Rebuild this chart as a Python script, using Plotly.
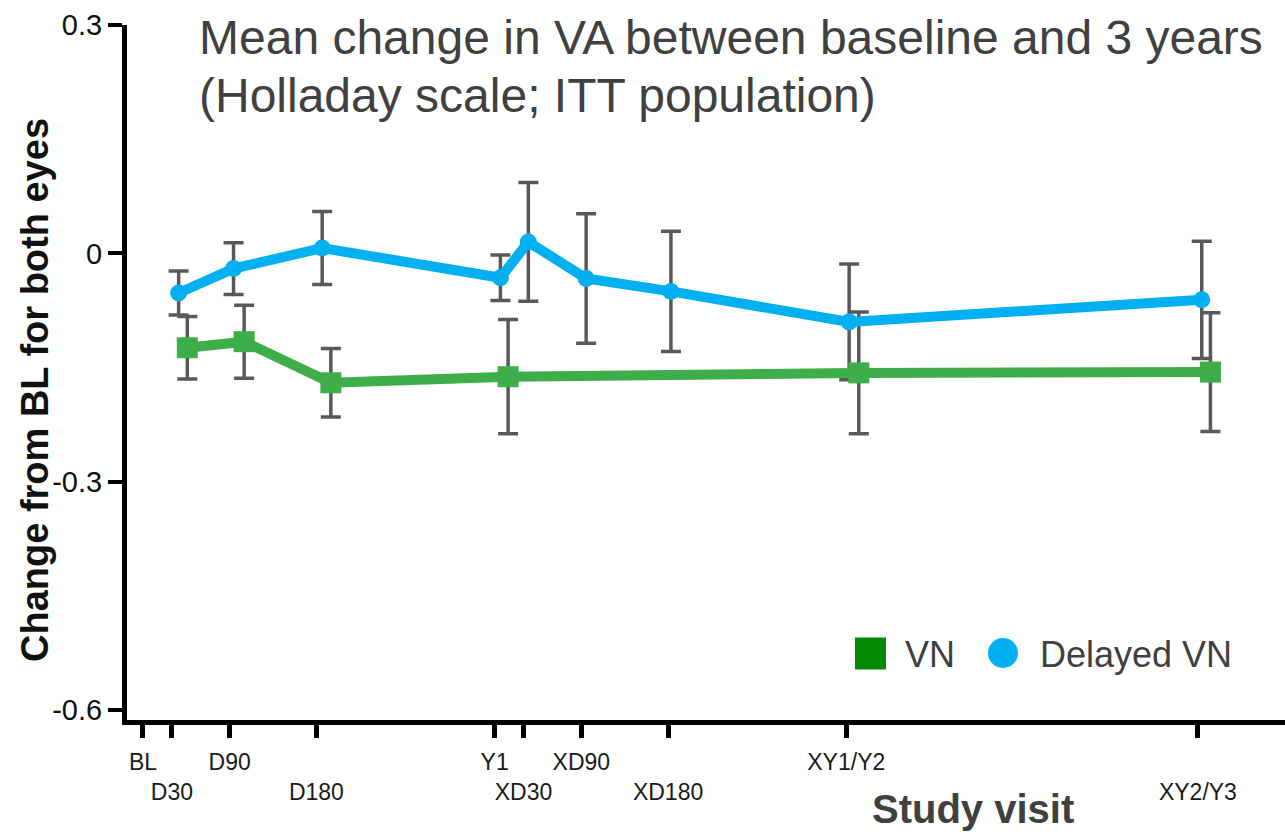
import plotly.graph_objects as go

# Study visit schedule (days from baseline) and their axis labels
visit_days = [0, 30, 90, 180, 365, 395, 455, 545, 730, 1095]
visit_labels = ["BL", "<br>D30", "D90", "<br>D180", "Y1", "<br>XD30",
                "XD90", "<br>XD180", "XY1/Y2", "<br>XY2/Y3"]

# VN group: mean change from baseline and error half-widths
vn_days = [46, 105, 195, 379, 743, 1108]
vn_mean = [-0.124, -0.116, -0.170, -0.162, -0.157, -0.156]
vn_err = [0.041, 0.048, 0.045, 0.075, 0.080, 0.078]

# Delayed VN group
dvn_days = [37, 94, 186, 371, 400, 460, 548, 733, 1099]
dvn_mean = [-0.052, -0.020, 0.007, -0.032, 0.015, -0.033, -0.050, -0.090, -0.061]
dvn_err = [0.029, 0.034, 0.048, 0.030, 0.078, 0.085, 0.079, 0.076, 0.077]

FONT = "Liberation Sans, Arial, sans-serif"
BLUE = "#00B0F0"
GREEN = "#3DAE49"
GREEN_KEY = "#038A03"
ERR = "#595959"
TEXT = "#404040"

fig = go.Figure()

# error bars first so the lines sit on top of them
for days, mean, err in [(vn_days, vn_mean, vn_err), (dvn_days, dvn_mean, dvn_err)]:
    fig.add_trace(go.Scatter(
        x=days, y=mean, mode="markers",
        marker=dict(size=1, color="rgba(0,0,0,0)"),
        error_y=dict(type="data", array=err, visible=True,
                     color=ERR, thickness=3.5, width=10),
        showlegend=False, hoverinfo="skip",
    ))

fig.add_trace(go.Scatter(
    x=vn_days, y=vn_mean, mode="lines+markers", name="VN",
    line=dict(color=GREEN, width=10),
    marker=dict(symbol="square", size=21, color=GREEN),
    showlegend=False,
))
fig.add_trace(go.Scatter(
    x=dvn_days, y=dvn_mean, mode="lines+markers", name="Delayed VN",
    line=dict(color=BLUE, width=10),
    marker=dict(symbol="circle", size=17, color=BLUE),
    showlegend=False,
))

PL, PR, PT, PB = 127, 0, 25, 112
W, H = 1285, 832
pw, ph = W - PL - PR, H - PT - PB


def px(x):
    return (x - PL) / pw


def py(y):
    return (H - PB - y) / ph


annotations = [
    dict(text="Mean change in VA between baseline and 3 years",
         x=px(197), y=py(38), xanchor="left", yanchor="middle",
         font=dict(family=FONT, size=48, color=TEXT)),
    dict(text="(Holladay scale; ITT population)",
         x=px(197), y=py(95), xanchor="left", yanchor="middle",
         font=dict(family=FONT, size=48, color=TEXT)),
    dict(text="<b>Change from BL for both eyes</b>", textangle=-90,
         x=px(35), y=py(390), xanchor="center", yanchor="middle",
         font=dict(family=FONT, size=38, color="#111111")),
    dict(text="<b>Study visit</b>",
         x=px(973), y=py(809), xanchor="center", yanchor="middle",
         font=dict(family=FONT, size=40, color=TEXT)),
    dict(text="VN", x=px(903), y=py(654), xanchor="left", yanchor="middle",
         font=dict(family=FONT, size=36, color=TEXT)),
    dict(text="Delayed VN", x=px(1038), y=py(654), xanchor="left", yanchor="middle",
         font=dict(family=FONT, size=36, color=TEXT)),
]
for a in annotations:
    a.update(xref="paper", yref="paper", showarrow=False)

shapes = [
    dict(type="rect", xref="paper", yref="paper",
         xsizemode="pixel", ysizemode="pixel",
         xanchor=px(870.5), yanchor=py(653.5),
         x0=-15.5, x1=15.5, y0=-16, y1=16,
         fillcolor=GREEN_KEY, line=dict(width=0)),
    dict(type="circle", xref="paper", yref="paper",
         xsizemode="pixel", ysizemode="pixel",
         xanchor=px(1003), yanchor=py(653),
         x0=-15, x1=15, y0=-15, y1=15,
         fillcolor=BLUE, line=dict(width=0)),
]

fig.update_layout(
    width=W, height=H,
    margin=dict(l=PL, r=PR, t=PT, b=PB, pad=0),
    paper_bgcolor="white", plot_bgcolor="white",
    annotations=annotations, shapes=shapes,
    showlegend=False,
)

fig.update_xaxes(
    range=[-16.6, 1185.4],
    tickmode="array", tickvals=visit_days, ticktext=visit_labels,
    tickangle=0, automargin=False, ticklabelstandoff=4,
    ticks="outside", ticklen=13, tickwidth=5, tickcolor="black",
    showline=True, linecolor="black", linewidth=5,
    showgrid=False, zeroline=False,
    tickfont=dict(family=FONT, size=23, color="#1a1a1a"),
)
fig.update_yaxes(
    range=[-0.613, 0.3],
    tickmode="array", tickvals=[0.3, 0, -0.3, -0.6],
    ticktext=["0.3", "0", "-0.3", "-0.6"],
    automargin=False,
    ticks="outside", ticklen=14, tickwidth=4, tickcolor="black",
    showline=True, linecolor="black", linewidth=5,
    showgrid=False, zeroline=False,
    tickfont=dict(family=FONT, size=29, color="#111111"),
)

fig.write_html("out.html")
